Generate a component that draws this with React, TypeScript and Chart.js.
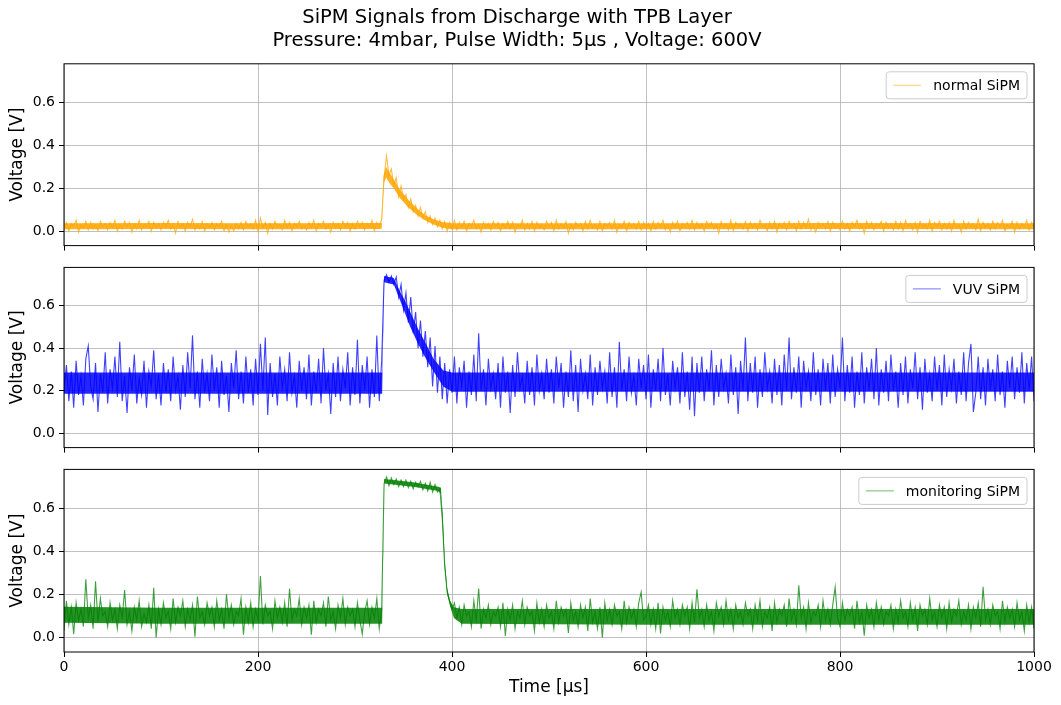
import React, { useEffect, useRef } from "react";
import { Chart, registerables } from "chart.js";

Chart.register(...registerables);

// ---------------- data ----------------
const sampleStep = 2.5; // µs between samples, t = 0 … 1000 µs
const xTicks = [0, 200, 400, 600, 800, 1000];
const yTicks = [0, 0.2, 0.4, 0.6];
const yMin = -0.068;
const yMax = 0.78;
const titleLines = [
  "SiPM Signals from Discharge with TPB Layer",
  "Pressure: 4mbar, Pulse Width: 5µs , Voltage: 600V",
];
const xLabel = "Time [µs]";
const yLabel = "Voltage [V]";
const seriesLabels = ["normal SiPM", "VUV SiPM", "monitoring SiPM"];
const lineColors = ["rgba(255,165,0,0.75)", "rgba(0,0,255,0.75)", "rgba(0,128,0,0.75)"];
const coreColors = ["rgba(255,165,0,0.85)", "rgba(0,0,255,0.85)", "rgba(0,128,0,0.85)"];
const handleColors = ["rgba(255,165,0,0.55)", "rgba(0,0,255,0.55)", "rgba(0,128,0,0.55)"];

// sampled traces (every 2.5 µs)
const normalSiPM = [
  0.01, 0.04, 0.0, 0.035, 0.02, 0.05, -0.005, 0.03, 0.015, 0.045, 0.005, 0.04, 0.01, 0.03, 0.0, 0.045, 0.02, 0.035, 0.005, 0.04,
  0.015, 0.05, 0.0, 0.03, 0.01, 0.045, 0.02, 0.04, -0.005, 0.035, 0.01, 0.05, 0.005, 0.03, 0.02, 0.045, 0.0, 0.04, 0.015, 0.035,
  0.005, 0.04, 0.02, 0.05, 0.01, 0.03, -0.01, 0.045, 0.015, 0.035, 0.0, 0.04, 0.02, 0.055, 0.005, 0.03, 0.01, 0.045, 0.0, 0.035,
  0.015, 0.04, 0.005, 0.035, 0.02, 0.045, 0.0, 0.03, -0.005, 0.025, 0.0, 0.035, 0.01, 0.04, 0.005, 0.045, 0.02, 0.035, 0.01, 0.05,
  0.0, 0.06, 0.015, 0.04, -0.01, 0.035, 0.01, 0.045, 0.02, 0.03, 0.005, 0.05, 0.015, 0.04, 0.0, 0.035, 0.02, 0.045, 0.01, 0.03,
  0.005, 0.04, 0.015, 0.05, 0.0, 0.035, 0.02, 0.045, 0.01, 0.03, -0.005, 0.04, 0.015, 0.035, 0.005, 0.045, 0.02, 0.04, 0.0, 0.035,
  0.01, 0.045, 0.02, 0.04, 0.005, 0.035, 0.015, 0.05, 0.0, 0.04, 0.02, 0.055, 0.25, 0.35, 0.26, 0.29, 0.21, 0.25, 0.16, 0.21,
  0.15, 0.17, 0.11, 0.15, 0.09, 0.12, 0.07, 0.11, 0.06, 0.09, 0.04, 0.07, 0.03, 0.06, 0.02, 0.05, 0.01, 0.045, 0.0, 0.04,
  0.01, 0.05, 0.005, 0.04, 0.015, 0.045, 0.0, 0.035, 0.02, 0.05, 0.01, 0.03, -0.005, 0.04, 0.015, 0.035, 0.005, 0.045, 0.02, 0.04,
  0.0, 0.035, 0.015, 0.045, 0.01, 0.04, -0.005, 0.03, 0.02, 0.05, 0.005, 0.035, 0.01, 0.045, 0.0, 0.04, 0.015, 0.03, 0.005, 0.045,
  0.02, 0.04, 0.0, 0.05, 0.01, 0.035, 0.015, 0.045, -0.01, 0.03, 0.005, 0.04, 0.02, 0.035, 0.0, 0.045, 0.01, 0.05, 0.015, 0.03,
  0.005, 0.045, 0.0, 0.035, 0.02, 0.04, 0.01, 0.05, -0.005, 0.03, 0.015, 0.045, 0.0, 0.04, 0.02, 0.035, 0.01, 0.045, 0.005, 0.04,
  0.015, 0.035, 0.0, 0.045, 0.01, 0.04, 0.02, 0.05, 0.005, 0.03, -0.005, 0.04, 0.015, 0.045, 0.0, 0.035, 0.02, 0.04, 0.01, 0.05,
  0.005, 0.04, 0.015, 0.035, 0.0, 0.045, 0.02, 0.04, 0.01, 0.03, -0.01, 0.045, 0.015, 0.035, 0.005, 0.05, 0.0, 0.04, 0.02, 0.035,
  0.01, 0.045, 0.0, 0.04, 0.015, 0.035, 0.005, 0.05, 0.02, 0.03, 0.0, 0.04, 0.01, 0.045, -0.005, 0.035, 0.015, 0.04, 0.005, 0.045,
  0.02, 0.035, 0.0, 0.045, 0.01, 0.04, 0.015, 0.055, 0.005, 0.03, -0.005, 0.04, 0.02, 0.035, 0.01, 0.045, 0.0, 0.04, 0.015, 0.03,
  0.005, 0.045, 0.01, 0.035, 0.0, 0.04, 0.02, 0.05, 0.01, 0.03, -0.01, 0.045, 0.015, 0.04, 0.005, 0.035, 0.02, 0.045, 0.0, 0.04,
  0.015, 0.035, 0.005, 0.045, 0.01, 0.04, 0.0, 0.05, 0.02, 0.035, 0.005, 0.04, -0.005, 0.045, 0.015, 0.03, 0.01, 0.05, 0.0, 0.04,
  0.02, 0.045, 0.005, 0.035, 0.01, 0.04, 0.0, 0.05, 0.015, 0.03, -0.005, 0.045, 0.01, 0.04, 0.02, 0.035, 0.005, 0.055, 0.0, 0.04,
  0.015, 0.035, 0.005, 0.045, 0.01, 0.04, 0.02, 0.05, 0.0, 0.03, 0.015, 0.045, -0.005, 0.04, 0.01, 0.035, 0.02, 0.05, 0.005, 0.04,
  0.02,
];

const vuvSiPM = [
  0.2, 0.32, 0.15, 0.29, 0.12, 0.34, 0.18, 0.27, 0.13, 0.35, 0.41, 0.22, 0.16, 0.33, 0.1, 0.28, 0.19, 0.38, 0.14, 0.3,
  0.21, 0.36, 0.17, 0.43, 0.15, 0.27, 0.095, 0.31, 0.2, 0.37, 0.14, 0.26, 0.18, 0.34, 0.12, 0.29, 0.22, 0.39, 0.16, 0.28,
  0.13, 0.33, 0.19, 0.3, 0.15, 0.36, 0.2, 0.27, 0.11, 0.32, 0.17, 0.38, 0.21, 0.46, 0.16, 0.29, 0.12, 0.35, 0.19, 0.28,
  0.15, 0.37, 0.2, 0.31, 0.12, 0.34, 0.18, 0.27, 0.1, 0.33, 0.21, 0.39, 0.16, 0.29, 0.14, 0.36, 0.19, 0.3, 0.13, 0.35,
  0.18, 0.42, 0.2, 0.45, 0.085, 0.33, 0.17, 0.28, 0.13, 0.36, 0.21, 0.3, 0.15, 0.38, 0.19, 0.27, 0.12, 0.34, 0.2, 0.31,
  0.16, 0.37, 0.13, 0.29, 0.19, 0.35, 0.14, 0.4, 0.2, 0.28, 0.09, 0.33, 0.17, 0.36, 0.15, 0.3, 0.21, 0.38, 0.13, 0.31,
  0.18, 0.44, 0.14, 0.32, 0.2, 0.36, 0.12, 0.3, 0.17, 0.46, 0.15, 0.34, 0.72, 0.745, 0.71, 0.74, 0.7, 0.735, 0.64, 0.7,
  0.58, 0.66, 0.52, 0.64, 0.47, 0.57, 0.4, 0.53, 0.36, 0.48, 0.31, 0.45, 0.22, 0.41, 0.19, 0.36, 0.16, 0.33, 0.14, 0.3,
  0.19, 0.36, 0.14, 0.31, 0.22, 0.34, 0.12, 0.29, 0.18, 0.37, 0.15, 0.47, 0.2, 0.3, 0.13, 0.35, 0.21, 0.28, 0.16, 0.33,
  0.12, 0.36, 0.19, 0.29, 0.095, 0.32, 0.17, 0.38, 0.21, 0.27, 0.14, 0.34, 0.18, 0.31, 0.13, 0.37, 0.2, 0.28, 0.16, 0.35,
  0.19, 0.3, 0.14, 0.36, 0.21, 0.33, 0.12, 0.29, 0.17, 0.39, 0.15, 0.32, 0.1, 0.35, 0.2, 0.28, 0.16, 0.37, 0.13, 0.31,
  0.18, 0.34, 0.21, 0.29, 0.14, 0.38, 0.17, 0.31, 0.12, 0.43, 0.2, 0.3, 0.15, 0.36, 0.19, 0.27, 0.13, 0.35, 0.21, 0.32,
  0.16, 0.37, 0.12, 0.3, 0.2, 0.35, 0.15, 0.4, 0.18, 0.28, 0.13, 0.34, 0.21, 0.31, 0.14, 0.38, 0.17, 0.29, 0.11, 0.36,
  0.08, 0.33, 0.19, 0.36, 0.15, 0.3, 0.2, 0.39, 0.13, 0.32, 0.17, 0.35, 0.21, 0.28, 0.14, 0.37, 0.18, 0.31, 0.09, 0.34,
  0.2, 0.45, 0.15, 0.33, 0.19, 0.36, 0.12, 0.3, 0.17, 0.38, 0.21, 0.29, 0.14, 0.35, 0.18, 0.32, 0.13, 0.37, 0.2, 0.45,
  0.16, 0.31, 0.19, 0.36, 0.12, 0.34, 0.21, 0.29, 0.15, 0.38, 0.18, 0.3, 0.13, 0.35, 0.2, 0.33, 0.14, 0.37, 0.17, 0.3,
  0.21, 0.45, 0.15, 0.32, 0.19, 0.36, 0.12, 0.29, 0.18, 0.38, 0.14, 0.31, 0.2, 0.35, 0.16, 0.4, 0.13, 0.3, 0.19, 0.34,
  0.15, 0.37, 0.2, 0.29, 0.12, 0.33, 0.18, 0.36, 0.14, 0.3, 0.21, 0.38, 0.16, 0.31, 0.11, 0.35, 0.19, 0.28, 0.15, 0.36,
  0.2, 0.32, 0.13, 0.37, 0.17, 0.3, 0.21, 0.35, 0.14, 0.29, 0.18, 0.38, 0.15, 0.33, 0.42, 0.1, 0.19, 0.36, 0.16, 0.31,
  0.13, 0.35, 0.2, 0.3, 0.15, 0.37, 0.18, 0.29, 0.12, 0.34, 0.21, 0.36, 0.16, 0.31, 0.19, 0.38, 0.14, 0.33, 0.2, 0.36,
  0.15,
];

const monitoringSiPM = [
  0.03, 0.17, 0.06, 0.14, 0.015, 0.16, 0.08, 0.13, 0.05, 0.27, 0.09, 0.15, 0.04, 0.26, 0.07, 0.18, 0.1, 0.12, 0.05, 0.16,
  0.08, 0.13, 0.04, 0.15, 0.09, 0.22, 0.06, 0.12, 0.03, 0.14, 0.08, 0.17, 0.05, 0.11, 0.07, 0.15, 0.04, 0.23, 0.0, 0.13,
  0.06, 0.16, 0.09, 0.12, 0.04, 0.18, 0.07, 0.14, 0.1, 0.17, 0.05, 0.13, 0.08, 0.15, 0.003, 0.19, 0.09, 0.12, 0.06, 0.16,
  0.1, 0.14, 0.05, 0.17, 0.08, 0.13, 0.04, 0.2, 0.09, 0.15, 0.06, 0.12, 0.1, 0.18, 0.012, 0.14, 0.07, 0.16, 0.05, 0.13,
  0.08, 0.285, 0.06, 0.15, 0.1, 0.12, 0.04, 0.17, 0.09, 0.14, 0.07, 0.16, 0.05, 0.226, 0.08, 0.13, 0.1, 0.18, 0.06, 0.14,
  0.09, 0.15, 0.012, 0.17, 0.07, 0.13, 0.1, 0.16, 0.05, 0.19, 0.08, 0.12, 0.04, 0.15, 0.09, 0.18, 0.06, 0.14, 0.1, 0.13,
  0.05, 0.16, 0.08, 0.015, 0.12, 0.17, 0.06, 0.14, 0.09, 0.18, 0.04, 0.13, 0.715, 0.745, 0.705, 0.74, 0.71, 0.735, 0.7, 0.73,
  0.7, 0.73, 0.695, 0.725, 0.69, 0.72, 0.7, 0.725, 0.685, 0.715, 0.68, 0.72, 0.675, 0.71, 0.675, 0.69, 0.55, 0.33, 0.21, 0.17,
  0.13, 0.16, 0.09, 0.14, 0.06, 0.15, 0.1, 0.12, 0.05, 0.17, 0.08, 0.227, 0.04, 0.13, 0.09, 0.15, 0.06, 0.12, 0.1, 0.14,
  0.05, 0.16, 0.006, 0.13, 0.08, 0.15, 0.04, 0.12, 0.09, 0.17, 0.06, 0.14, 0.1, 0.12, 0.03, 0.16, 0.07, 0.13, 0.05, 0.15,
  0.09, 0.12, 0.04, 0.17, 0.07, 0.14, 0.1, 0.13, 0.02, 0.16, 0.08, 0.12, 0.05, 0.15, 0.09, 0.14, 0.03, 0.18, 0.07, 0.12,
  0.04, 0.14, 0.0, 0.16, 0.08, 0.13, 0.06, 0.15, 0.1, 0.12, 0.04, 0.17, 0.07, 0.14, 0.09, 0.13, 0.05, 0.16, 0.21, 0.08,
  0.1, 0.15, 0.06, 0.13, 0.04, 0.16, 0.018, 0.14, 0.08, 0.12, 0.05, 0.17, 0.09, 0.13, 0.06, 0.15, 0.1, 0.14, 0.04, 0.16,
  0.07, 0.223, 0.09, 0.13, 0.05, 0.15, 0.08, 0.12, 0.03, 0.16, 0.1, 0.14, 0.06, 0.17, 0.08, 0.13, 0.04, 0.15, 0.09, 0.12,
  0.06, 0.16, 0.1, 0.13, 0.04, 0.15, 0.08, 0.17, 0.05, 0.12, 0.09, 0.14, 0.03, 0.16, 0.07, 0.13, 0.1, 0.15, 0.05, 0.18,
  0.08, 0.13, 0.06, 0.242, 0.09, 0.14, 0.04, 0.16, 0.07, 0.12, 0.1, 0.15, 0.05, 0.17, 0.08, 0.13, 0.06, 0.15, 0.233, 0.09,
  0.05, 0.16, 0.08, 0.13, 0.1, 0.14, 0.04, 0.17, 0.07, 0.12, 0.008, 0.15, 0.09, 0.13, 0.05, 0.16, 0.08, 0.14, 0.06, 0.12,
  0.1, 0.15, 0.04, 0.13, 0.07, 0.17, 0.09, 0.12, 0.05, 0.16, 0.08, 0.14, 0.03, 0.15, 0.1, 0.13, 0.06, 0.18, 0.08, 0.12,
  0.05, 0.15, 0.09, 0.14, 0.04, 0.16, 0.07, 0.13, 0.1, 0.17, 0.06, 0.12, 0.08, 0.15, 0.04, 0.14, 0.09, 0.16, 0.05, 0.235,
  0.08, 0.13, 0.06, 0.15, 0.1, 0.12, 0.04, 0.17, 0.07, 0.14, 0.09, 0.13, 0.05, 0.16, 0.08, 0.12, 0.03, 0.15, 0.07, 0.14,
  0.04,
];

// dense core of each trace (where the many overlapping samples merge), read as lower/upper edges
const normalCoreT = [0, 100, 200, 327.5, 329.5, 332, 336, 340, 346, 355, 364, 372, 381, 390, 400, 600, 800, 1000];
const normalCoreLo = [0.008, 0.009, 0.008, 0.009, 0.22, 0.25, 0.22, 0.2, 0.155, 0.11, 0.075, 0.05, 0.03, 0.015, 0.008, 0.008, 0.009, 0.008];
const normalCoreHi = [0.036, 0.037, 0.036, 0.038, 0.26, 0.3, 0.27, 0.24, 0.195, 0.145, 0.105, 0.075, 0.055, 0.042, 0.036, 0.036, 0.037, 0.036];

const vuvCoreT = [0, 100, 200, 328, 330, 340, 346, 352, 357, 364, 372, 381, 391, 400, 600, 800, 1000];
const vuvCoreLo = [0.185, 0.185, 0.185, 0.185, 0.71, 0.7, 0.63, 0.56, 0.5, 0.43, 0.36, 0.29, 0.22, 0.195, 0.195, 0.195, 0.195];
const vuvCoreHi = [0.285, 0.285, 0.285, 0.285, 0.74, 0.73, 0.67, 0.62, 0.57, 0.5, 0.43, 0.35, 0.295, 0.285, 0.285, 0.285, 0.285];

const monCoreT = [0, 100, 200, 328, 330, 360, 386, 388.5, 390.5, 392.5, 395, 398, 402, 410, 600, 800, 1000];
const monCoreLo = [0.068, 0.063, 0.063, 0.063, 0.715, 0.7, 0.68, 0.665, 0.49, 0.32, 0.2, 0.145, 0.09, 0.063, 0.058, 0.058, 0.058];
const monCoreHi = [0.142, 0.137, 0.137, 0.137, 0.735, 0.72, 0.7, 0.695, 0.57, 0.36, 0.23, 0.17, 0.14, 0.132, 0.132, 0.132, 0.132];

const seriesValues = [normalSiPM, vuvSiPM, monitoringSiPM];
const coreT = [normalCoreT, vuvCoreT, monCoreT];
const coreLo = [normalCoreLo, vuvCoreLo, monCoreLo];
const coreHi = [normalCoreHi, vuvCoreHi, monCoreHi];

// ---------------- layout / style ----------------
const FONT = "'DejaVu Sans', 'Liberation Sans', sans-serif";
const W = 1061;
const panels = [
  { top: 0, height: 258, padTop: 0, xHeight: 10 },
  { top: 255, height: 205, padTop: 10, xHeight: 10 },
  { top: 457, height: 248, padTop: 10, xHeight: 53 },
];

Chart.defaults.font.family = FONT;
Chart.defaults.color = "#000";

function toPoints(values: number[]) {
  return values.map((v, i) => ({ x: i * sampleStep, y: v }));
}
function pairPoints(ts: number[], vs: number[]) {
  return ts.map((t, i) => ({ x: t, y: vs[i] }));
}

function framePlugin(i: number) {
  return {
    id: "frameLegend" + i,
    afterDatasetsDraw(chart: any) {
      const { ctx, chartArea } = chart;
      const { left, right, top, bottom } = chartArea;
      ctx.save();
      ctx.strokeStyle = "#000";
      ctx.lineWidth = 1;
      ctx.strokeRect(left, top, right - left, bottom - top);
      const label = seriesLabels[i];
      ctx.font = `14px ${FONT}`;
      const tw = ctx.measureText(label).width;
      const padX = 7;
      const handle = 28;
      const gap = 12;
      const h = 27;
      const w = padX + handle + gap + tw + padX;
      const x1 = right - 7;
      const x0 = x1 - w;
      const y0 = top + 8;
      ctx.beginPath();
      if ((ctx as any).roundRect) (ctx as any).roundRect(x0, y0, w, h, 3);
      else ctx.rect(x0, y0, w, h);
      ctx.fillStyle = "rgba(255,255,255,0.8)";
      ctx.fill();
      ctx.strokeStyle = "#cccccc";
      ctx.lineWidth = 1;
      ctx.stroke();
      const cy = y0 + h / 2;
      ctx.beginPath();
      ctx.moveTo(x0 + padX, cy);
      ctx.lineTo(x0 + padX + handle, cy);
      ctx.strokeStyle = handleColors[i];
      ctx.lineWidth = 1;
      ctx.stroke();
      ctx.fillStyle = "#000";
      ctx.textBaseline = "middle";
      ctx.textAlign = "left";
      ctx.fillText(label, x0 + padX + handle + gap, cy + 1);
      ctx.restore();
    },
  };
}

function bandEdge(label: string, ts: number[], vs: number[], order: number, fillColor?: string): any {
  return {
    label,
    data: pairPoints(ts, vs),
    borderColor: "rgba(0,0,0,0)",
    borderWidth: 0,
    backgroundColor: fillColor || "rgba(0,0,0,0)",
    pointRadius: 0,
    tension: 0,
    fill: fillColor ? "+1" : false,
    order,
  };
}

function makeConfig(i: number): any {
  const isFirst = i === 0;
  const isLast = i === 2;
  const p = panels[i];
  const grid = {
    color: "#b0b0b0",
    lineWidth: 0.8,
    tickColor: "#000",
    tickLength: 5,
    tickWidth: 1,
  };
  return {
    type: "line",
    data: {
      datasets: [
        {
          label: seriesLabels[i],
          data: toPoints(seriesValues[i]),
          borderColor: lineColors[i],
          borderWidth: 1.1,
          pointRadius: 0,
          tension: 0,
          fill: false,
          order: 0,
        },
        bandEdge(seriesLabels[i] + " core (upper)", coreT[i], coreHi[i], 1, coreColors[i]),
        bandEdge(seriesLabels[i] + " core (lower)", coreT[i], coreLo[i], 2),
      ],
    },
    options: {
      responsive: false,
      maintainAspectRatio: false,
      animation: false,
      events: [],
      layout: { padding: { left: 0, right: 27, top: p.padTop, bottom: 0 } },
      plugins: {
        legend: { display: false },
        tooltip: { enabled: false },
        title: {
          display: isFirst,
          text: titleLines,
          color: "#000",
          font: { size: 19.5, family: FONT, weight: "normal", lineHeight: 1.2 },
          padding: { top: 6, bottom: 11 },
        },
      },
      scales: {
        x: {
          type: "linear",
          min: 0,
          max: 1000,
          afterBuildTicks: (s: any) => {
            s.ticks = xTicks.map((v) => ({ value: v }));
          },
          afterFit: (s: any) => {
            s.height = p.xHeight;
          },
          grid,
          border: { display: false },
          ticks: {
            display: isLast,
            font: { size: 14 },
            padding: 2,
            maxRotation: 0,
            autoSkip: false,
            callback: (v: any) => String(v),
          },
          title: {
            display: isLast,
            text: xLabel,
            font: { size: 17 },
            padding: { top: 0, bottom: 7 },
          },
        },
        y: {
          type: "linear",
          min: yMin,
          max: yMax,
          afterBuildTicks: (s: any) => {
            s.ticks = yTicks.map((v) => ({ value: v }));
          },
          afterFit: (s: any) => {
            s.width = 64;
          },
          grid,
          border: { display: false },
          ticks: {
            font: { size: 14 },
            padding: 4,
            autoSkip: false,
            callback: (v: any) => Number(v).toFixed(1),
          },
          title: {
            display: true,
            text: yLabel,
            font: { size: 17 },
            padding: { top: 7, bottom: 0 },
          },
        },
      },
    },
    plugins: [framePlugin(i)],
  };
}

export default function App() {
  const refs = useRef<(HTMLCanvasElement | null)[]>([]);
  useEffect(() => {
    const charts = panels.map((_, i) => new Chart(refs.current[i] as HTMLCanvasElement, makeConfig(i)));
    return () => charts.forEach((c) => c.destroy());
  }, []);
  return (
    <div style={{ position: "fixed", left: 0, top: 0, width: W, height: 705, background: "#fff" }}>
      {panels.map((p, i) => (
        <canvas
          key={i}
          ref={(el) => {
            refs.current[i] = el;
          }}
          width={W}
          height={p.height}
          style={{ position: "absolute", left: 0, top: p.top, width: W, height: p.height }}
        />
      ))}
    </div>
  );
}
